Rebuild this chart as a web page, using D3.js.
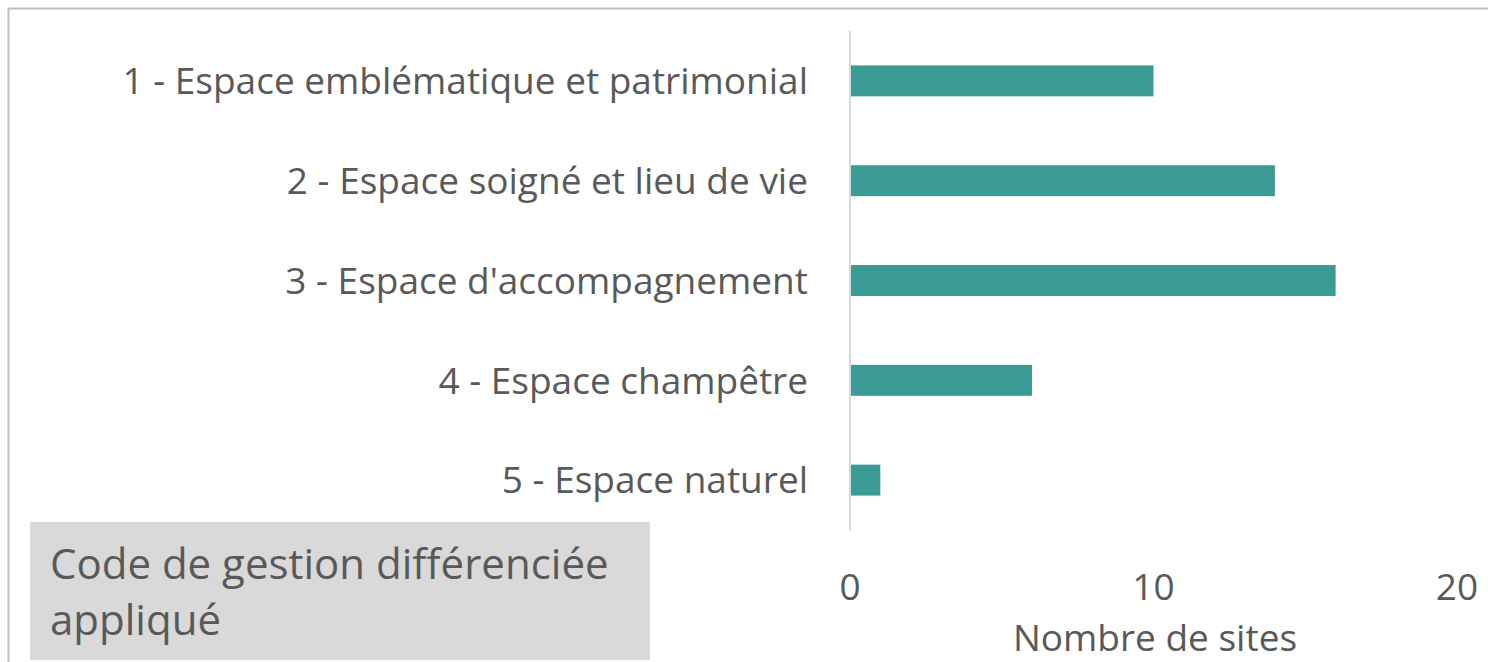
<!DOCTYPE html>
<html>
<head>
<meta charset="utf-8">
<script src="https://cdn.jsdelivr.net/npm/d3@7"></script>
<style>
  body { margin: 0; background: #fff; }
  svg text { font-family: "Open Sans", "Noto Sans", sans-serif; fill: #595959; }
</style>
</head>
<body>
<div id="chart"></div>
<script>
// data
var categories = [
  "1 - Espace emblématique et patrimonial",
  "2 - Espace soigné et lieu de vie",
  "3 - Espace d'accompagnement",
  "4 - Espace champêtre",
  "5 - Espace naturel"
];
var siteCounts = [10, 14, 16, 6, 1];
var xTicks = [0, 10, 20];
var xTitle = "Nombre de sites";
var boxTitle = ["Code de gestion différenciée", "appliqué"];

var svgWidth = 1488;
var svgHeight = 662;

var svg = d3.select("#chart")
  .append("svg")
  .attr("width", svgWidth)
  .attr("height", svgHeight);

// outer frame
svg.append("rect")
  .attr("x", 8.5)
  .attr("y", 8.5)
  .attr("width", 1500)
  .attr("height", 700)
  .attr("fill", "none")
  .attr("stroke", "#bfbfbf")
  .attr("stroke-width", 2);

var xScale = d3.scaleLinear()
  .domain([0, 20])
  .range([850, 1457]);

var yScale = d3.scaleBand()
  .domain(categories)
  .range([31, 530])
  .paddingInner(0.69)
  .paddingOuter(0.345);

// bars
svg.append("g").selectAll("rect")
  .data(categories)
  .enter()
  .append("rect")
  .attr("x", xScale(0))
  .attr("y", d => yScale(d))
  .attr("width", (d, i) => xScale(siteCounts[i]) - xScale(0))
  .attr("height", yScale.bandwidth())
  .attr("fill", "#3a9a94");

// vertical axis line
svg.append("line")
  .attr("x1", xScale(0))
  .attr("x2", xScale(0))
  .attr("y1", 31)
  .attr("y2", 530)
  .attr("stroke", "#d9d9d9")
  .attr("stroke-width", 2);

// category labels
svg.append("g").selectAll("text")
  .data(categories)
  .enter()
  .append("text")
  .attr("x", 808)
  .attr("y", d => yScale(d) + yScale.bandwidth() / 2)
  .attr("dy", "0.36em")
  .attr("text-anchor", "end")
  .style("font-size", "37px")
  .text(d => d);

// x tick labels
svg.append("g").selectAll("text")
  .data(xTicks)
  .enter()
  .append("text")
  .attr("x", d => xScale(d))
  .attr("y", 600)
  .attr("text-anchor", "middle")
  .style("font-size", "37px")
  .text(d => d);

svg.append("text")
  .attr("x", 1155)
  .attr("y", 651)
  .attr("text-anchor", "middle")
  .style("font-size", "37px")
  .text(xTitle);

// title box
svg.append("rect")
  .attr("x", 30)
  .attr("y", 522)
  .attr("width", 620)
  .attr("height", 138)
  .attr("fill", "#d9d9d9");

svg.append("g").selectAll("text")
  .data(boxTitle)
  .enter()
  .append("text")
  .attr("x", 50)
  .attr("y", (d, i) => 579 + i * 56)
  .style("font-size", "42px")
  .text(d => d);
</script>
</body>
</html>
